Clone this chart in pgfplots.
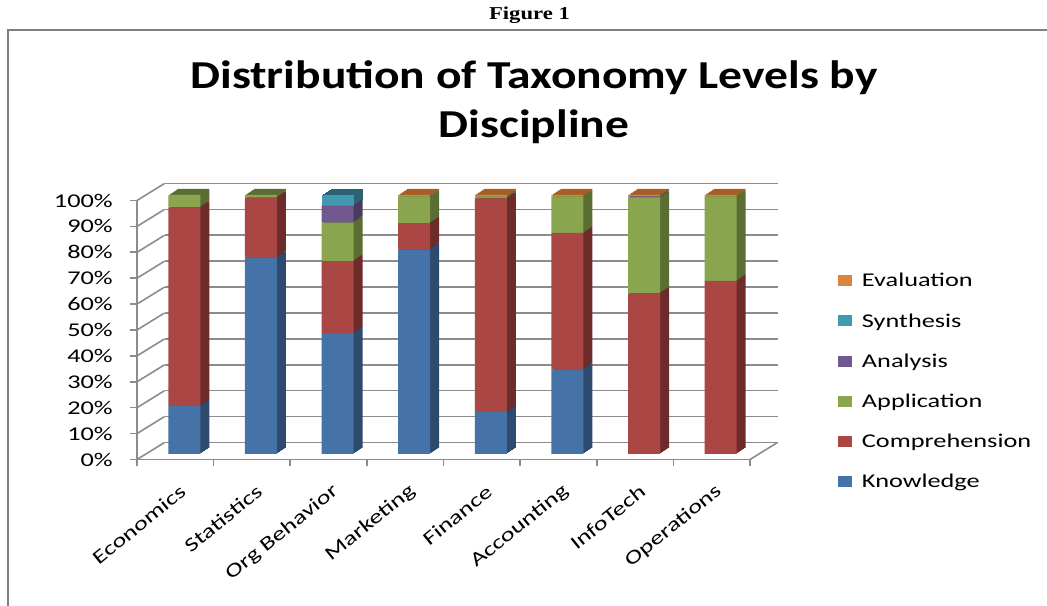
\documentclass[border=0pt]{standalone}
\usepackage{pgfplots}
\pgfplotsset{compat=1.18}
\usepackage{pgfplotstable}
\usepackage{fontspec}
\setmainfont{Carlito}
\newfontfamily\labfont[FakeStretch=1.35]{Carlito}
\newfontfamily\titfont[FakeStretch=1.2]{Carlito}
\newfontfamily\figfont[FakeStretch=1.25]{Liberation Serif}

\definecolor{kn}{HTML}{4572A7}\definecolor{knd}{HTML}{2E4A6F}
\definecolor{co}{HTML}{AA4643}\definecolor{cod}{HTML}{6D2B29}
\definecolor{ap}{HTML}{89A54E}\definecolor{apd}{HTML}{5A6D33}
\definecolor{an}{HTML}{71588F}\definecolor{anD}{HTML}{4A3A5E}
\definecolor{sy}{HTML}{4198AF}\definecolor{syd}{HTML}{2A6474}
\definecolor{ev}{HTML}{DB843D}\definecolor{evd}{HTML}{A65E25}
\definecolor{gridc}{HTML}{8C8C8C}
\definecolor{framec}{HTML}{808080}

\pgfplotstableread{
x K C App An Syn Ev
0 18.6 76.6 4.8 0 0 0
1 75.8 23.2 1.0 0 0 0
2 46.7 27.8 14.8 6.6 4.1 0
3 78.9 10.2 10.4 0 0 0.5
4 16.3 82.4 0.8 0 0 0.5
5 32.7 52.7 14.1 0 0 0.5
6 0 62.0 37.1 0.4 0 0.5
7 0 66.8 32.7 0 0 0.5
}\data

\tikzset{labf/.style={font=\labfont\fontsize{14.6}{16}\selectfont}}
\pgfplotsset{
  barstyle/.style={scale only axis, width=459.75pt, height=194.25pt,
    anchor=south west, xmin=-0.5, xmax=7.5, ymin=0, ymax=100,
    ybar stacked, bar width=24pt,
    axis line style={draw=none}, tick style={draw=none},
    xtick=\empty, ytick=\empty},
}

\begin{document}
\begin{tikzpicture}
\useasboundingbox (0,0) rectangle (785.25pt,454.5pt);

% back wall gridlines
\begin{axis}[scale only axis, width=459.75pt, height=194.25pt,
  at={(123.375pt,122.625pt)}, anchor=south west,
  xmin=0, xmax=1, ymin=0, ymax=100,
  axis line style={draw=none}, tick style={draw=none},
  xtick=\empty, ytick={0,10,...,100}, yticklabels={},
  ymajorgrids, grid style={gridc, line width=1.2pt}]
\end{axis}

% side/top faces (dark layers)
\foreach \k in {6,5,4,3,2,1}{
  \pgfmathsetmacro\ax{109.5+1.125*\k}
  \pgfmathsetmacro\ay{114+0.75*\k}
  \begin{axis}[barstyle, at={(\ax pt,\ay pt)}]
    \addplot[fill=knd, draw=none] table[x=x,y=K]{\data};
    \addplot[fill=cod, draw=none] table[x=x,y=C]{\data};
    \addplot[fill=apd, draw=none] table[x=x,y=App]{\data};
    \addplot[fill=anD, draw=none] table[x=x,y=An]{\data};
    \addplot[fill=syd, draw=none] table[x=x,y=Syn]{\data};
    \addplot[fill=evd, draw=none] table[x=x,y=Ev]{\data};
  \end{axis}
}

% front faces + legend
\begin{axis}[barstyle, at={(109.5pt,114pt)},
  legend style={at={(1.11582,0.72381)}, anchor=north west, draw=none,
    fill=white, inner sep=6pt, outer sep=0pt, row sep=20.85pt,
    column sep=7.5pt, labf,
    nodes={inner sep=0pt, text height=9.3pt, text depth=0pt}},
  legend cell align=left, reverse legend,
  legend image code/.code={\draw[#1, draw=none] (0pt,-4.125pt) rectangle (10.5pt,4.125pt);}]
  \addplot[fill=kn, draw=none] table[x=x,y=K]{\data};
  \addlegendentry{Knowledge}
  \addplot[fill=co, draw=none] table[x=x,y=C]{\data};
  \addlegendentry{Comprehension}
  \addplot[fill=ap, draw=none] table[x=x,y=App]{\data};
  \addlegendentry{Application}
  \addplot[fill=an, draw=none] table[x=x,y=An]{\data};
  \addlegendentry{Analysis}
  \addplot[fill=sy, draw=none] table[x=x,y=Syn]{\data};
  \addlegendentry{Synthesis}
  \addplot[fill=ev, draw=none] table[x=x,y=Ev]{\data};
  \addlegendentry{Evaluation}
\end{axis}

% front axes (floor edge, left wall)
\begin{axis}[scale only axis, width=459.75pt, height=194.25pt,
  at={(102.75pt,109.875pt)}, anchor=south west,
  xmin=-0.5, xmax=7.5, ymin=0, ymax=100, clip=false,
  axis x line=bottom, axis y line=left,
  axis line style={-, gridc, line width=1.2pt},
  tick style={gridc, line width=1.2pt},
  tick align=outside, major tick length=5.25pt,
  ytick={0,10,...,100},
  yticklabels={0\%,10\%,20\%,30\%,40\%,50\%,60\%,70\%,80\%,90\%,100\%},
  yticklabel style={labf, anchor=east, inner sep=0pt, xshift=-12.75pt},
  xtick={-0.5,0.5,...,7.5}, xticklabels={},
  extra x ticks={0,1,...,7},
  extra x tick labels={Economics,Statistics,Org Behavior,Marketing,Finance,Accounting,InfoTech,Operations},
  extra x tick style={tick style={draw=none}, major tick length=0pt,
    xticklabel style={labf, inner sep=0pt, xshift=5.8pt, yshift=-22pt, rotate=39, anchor=east}}]
  \pgfplotsinvokeforeach{0,10,...,100}{\draw[gridc, line width=1.2pt] (axis cs:-0.5,#1) -- ++(20.625pt,12.75pt);}
  \draw[gridc, line width=1.2pt] (axis cs:7.5,0) -- ++(20.625pt,12.75pt);
\end{axis}

% titles and frame
\node[anchor=base, font=\titfont\bfseries\fontsize{29.7}{32}\selectfont] at (400.5pt,388.3pt) {Distribution of Taxonomy Levels by};
\node[anchor=base, font=\titfont\bfseries\fontsize{29.7}{32}\selectfont] at (400.5pt,351pt) {Discipline};
\node[anchor=base, font=\figfont\bfseries\fontsize{13.6}{15}\selectfont] at (397.1pt,439.5pt) {Figure 1};
\draw[framec, line width=1.9pt] (6pt,-5pt) |- (795pt,432pt);
\end{tikzpicture}
\end{document}
